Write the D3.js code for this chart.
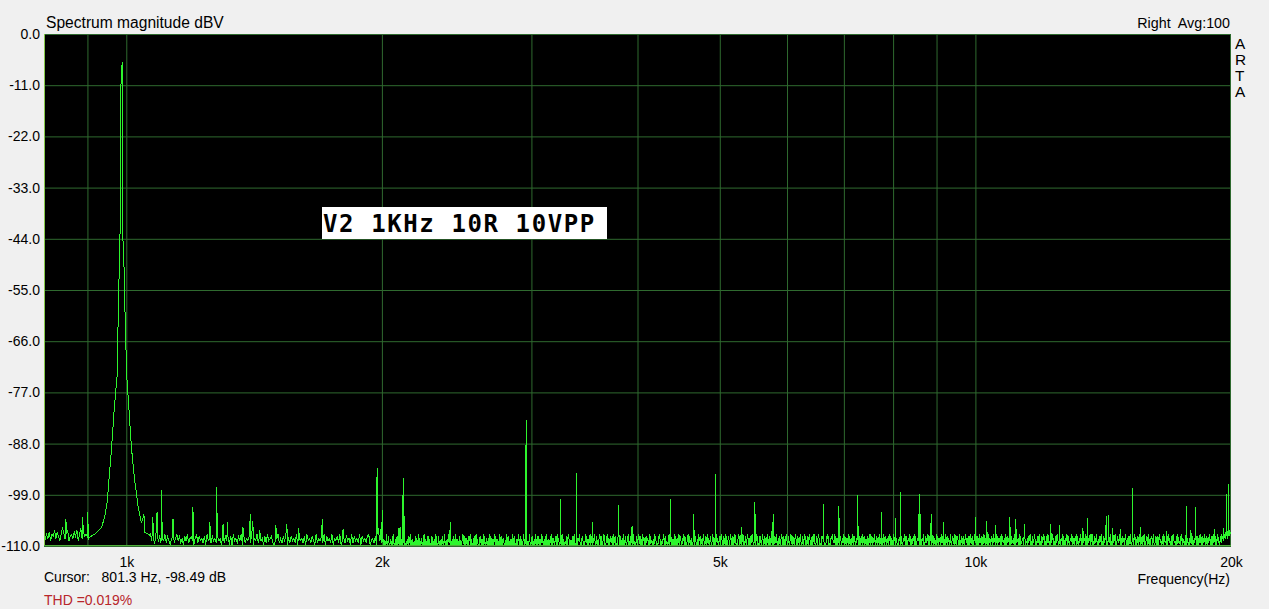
<!DOCTYPE html>
<html>
<head>
<meta charset="utf-8">
<script src="https://cdn.jsdelivr.net/npm/d3@7"></script>
<style>
  html, body { margin: 0; padding: 0; background: #f0f0f0; }
  svg { display: block; }
  text { font-family: "Liberation Sans", Arial, sans-serif; fill: #000; }
</style>
</head>
<body>
<svg id="chart" width="1269" height="609"></svg>
<script>
// ---------------- DATA ----------------
const yTickValues = [0, -11, -22, -33, -44, -55, -66, -77, -88, -99, -110];
const xGridHz = [900, 1000, 2000, 3000, 4000, 5000, 6000, 7000, 8000, 9000, 10000];
const xTickHz = [1000, 2000, 5000, 10000, 20000];
const xTickLabels = ["1k", "2k", "5k", "10k", "20k"];

// fundamental (1 kHz tone) skirt
const peakHz = [906, 922, 935, 943, 950, 954, 961, 967, 972, 975, 976, 978, 981, 983, 985, 985.3, 989, 990, 991, 993, 996, 999, 1002, 1008, 1014, 1023, 1033, 1042, 1051, 1066];
const peakDb = [-108.1, -107.2, -106.0, -103.8, -100.2, -95.9, -88.8, -81.5, -76.5, -74.4, -70.1, -62.1, -50.7, -44.3, -27.1, -11.6, -6.0, -7.0, -44.3, -47.0, -57.8, -67.3, -74.4, -81.5, -88.8, -95.9, -101.7, -105.1, -107.0, -107.7];

// harmonic / spurious spikes
const spikeHz = [849, 888, 900, 1049, 1075, 1087, 1100, 1135, 1198, 1254, 1277, 1300, 1316, 1372, 1400, 1410, 1436, 1500, 1546, 1597, 1702, 1800,
  1974, 1983, 1997, 2003, 2095, 2103, 2118, 2124, 2408, 2957, 2961, 3247, 3388, 3537, 3803, 3941, 4374, 4661, 4939, 5304, 5498, 5513, 5768, 5786,
  6630, 6904, 6920, 7269, 7758, 8056, 8168, 8576, 8604, 8869, 8885, 9177, 10005, 10311, 10566, 10974, 11154, 11430, 12266, 12568, 13384, 13559,
  14257, 14350, 14510, 14828, 15318, 15654, 16794, 17735, 17938, 18167, 19132, 19588, 19763, 19871];
const spikeDb = [-104.1, -103.7, -102.8, -103.2, -103.7, -102.7, -98.0, -104.1, -101.7, -104.8, -97.4, -105.2, -104.8, -105.9, -103.2, -104.7, -106.6, -105.5, -105.2, -106.2, -104.1, -106.4,
  -93.3, -106.2, -104.8, -102.2, -106.2, -105.9, -95.3, -103.6, -104.9, -86.0, -83.0, -99.9, -94.4, -104.9, -101.2, -105.7, -99.8, -103.2, -94.6, -105.9, -100.5, -103.2, -104.9, -103.2,
  -101.0, -101.4, -103.9, -99.1, -102.7, -104.0, -98.4, -103.2, -98.9, -103.9, -103.2, -104.9, -103.8, -104.7, -105.5, -103.8, -104.2, -105.3, -105.3, -105.5, -106.1, -104.0,
  -103.6, -103.3, -106.2, -106.4, -97.6, -106.0, -106.8, -101.4, -106.6, -101.7, -106.4, -106.2, -98.9, -96.7];

// noise floor, one digit per display bin, level = base + digit*step dB
const noiseBaseDb = -110.2;
const noiseStepDb = 0.45;
// 800 Hz .. 2 kHz (log-spaced bins)
const noiseLowDigits = [
  "546473658475369746835647583694756548",
  "4536475846374536475846374536475846374536475846",
  "3524635243625314524635241536245314625342516342534",
  "2534162534251634253615243526143625341526345213462",
  "4253614253426153425163425316243526153426143526134",
  "25341625342615342561342516342"
].join("");
// 2 kHz .. 20 kHz (log-spaced bins, denser)
const noiseHighDigits = [
  "0514031602510413062104150316041502510314052601410",
  "3150420613042106140315041205130416021503140520613",
  "1406250314052160413052014631502410536140215036041",
  "0253140615024031605142036150413062051430216045130",
  "4160350214063151402630514031620451302614053041625",
  "0315062140351604213506142031560412305164023150461",
  "2051436102540316250413605213460152034615023640152",
  "6013524061350214630512406135024613052146031250463",
  "1520634105243061523041653021465031246051320461530",
  "4026153042615302461530246153042160352140635124063",
  "0351624035126403516240351642053164025316402513640",
  "1346025136402513640251364025136402154036215403621",
  "5042613052461305214630521463052146305214630524163",
  "0251463025146302514630251463021546302154630215463",
  "2615304261530426153042615304261530426135042613504",
  "1350426135042613504261350426135042163504216350421",
  "0436150243615024361502436150243615024361052436105",
  "3062514306251430625143062514306215430621543062154",
  "1503624150362415036241503624150362415306241530624",
  "4061523406152340615234061523406152340651234065123",
  "0524613052461305246130524613052641305264130526413",
  "2143605214360521436052143605214360512436051243605",
  "6031524603152460315246031524603152460135246013524",
  "1462035146203514620351462035146203541620354162035",
  "3051642305164230516423051642305164230561423056142",
  "0426315042631504263150426315042631504623150462315",
  "2645364756475867"
].join("");

// ---------------- CHART ----------------
const svg = d3.select("#chart");
const plotL = 44, plotR = 1231, plotT = 34, plotB = 546;

const x = d3.scaleLog().domain([800, 20000]).range([plotL, plotR]);
const y = d3.scaleLinear().domain([-110, 0]).range([plotB, plotT]);

// plot background
svg.append("rect").attr("x", plotL).attr("y", plotT)
  .attr("width", plotR - plotL).attr("height", plotB - plotT).attr("fill", "#000");

const gridColor = "#2f6a2f";

// horizontal grid
const gy = svg.append("g").attr("transform", `translate(${plotL},0)`)
  .call(d3.axisLeft(y).tickValues(yTickValues).tickSize(-(plotR - plotL)).tickFormat(""));
gy.select(".domain").remove();
gy.selectAll("line").attr("stroke", gridColor).attr("stroke-width", 1);

// vertical grid
const gx = svg.append("g").attr("transform", `translate(0,${plotB})`)
  .call(d3.axisBottom(x).tickValues(xGridHz).tickSize(-(plotB - plotT)).tickFormat(""));
gx.select(".domain").remove();
gx.selectAll("line").attr("stroke", gridColor).attr("stroke-width", 1);

// frame
svg.append("rect").attr("x", plotL + 0.5).attr("y", plotT + 0.5)
  .attr("width", plotR - plotL - 1).attr("height", plotB - plotT - 1)
  .attr("fill", "none").attr("stroke", gridColor);
svg.append("line").attr("x1", plotL + 0.5).attr("x2", plotL + 0.5).attr("y1", plotT).attr("y2", plotB)
  .attr("stroke", "#86c94a");
svg.append("line").attr("x1", plotL).attr("x2", plotR).attr("y1", plotB - 0.5).attr("y2", plotB - 0.5)
  .attr("stroke", "#4fae3a");

// data assembly
function binsFromDigits(digits, hzLo, hzHi, skipFirst) {
  const n = digits.length, a = Math.log(hzLo), b = Math.log(hzHi);
  const out = [];
  for (let i = skipFirst ? 1 : 0; i < n; i++) {
    out.push({ hz: Math.exp(a + (b - a) * i / (n - 1)), db: noiseBaseDb + (+digits[i]) * noiseStepDb });
  }
  return out;
}
const noisePts = binsFromDigits(noiseLowDigits, 800, 2000, false)
  .concat(binsFromDigits(noiseHighDigits, 2000, 20000, true))
  .filter(p => p.hz < peakHz[0] || p.hz > peakHz[peakHz.length - 1]);
const peakPts = peakHz.map((h, i) => ({ hz: h, db: peakDb[i] }));
const spikePts = spikeHz.map((h, i) => ({ hz: h, db: spikeDb[i] }));
const allPts = noisePts.concat(peakPts, spikePts).sort((a, b) => a.hz - b.hz);

svg.append("clipPath").attr("id", "plotClip").append("rect")
  .attr("x", plotL + 1).attr("y", plotT).attr("width", plotR - plotL - 1).attr("height", plotB - plotT - 1);

const line = d3.line().x(d => x(d.hz)).y(d => y(d.db));
svg.append("path").datum(allPts)
  .attr("clip-path", "url(#plotClip)")
  .attr("d", line)
  .attr("fill", "none")
  .attr("stroke", "#2df52d")
  .attr("stroke-width", 1)
  .attr("shape-rendering", "crispEdges");

// y axis labels
const ya = svg.append("g").attr("transform", `translate(${plotL},0)`)
  .call(d3.axisLeft(y).tickValues(yTickValues).tickSize(0).tickPadding(4).tickFormat(d => d.toFixed(1)));
ya.select(".domain").remove();
ya.selectAll("text").attr("font-size", 14).attr("font-family", "Liberation Sans, Arial, sans-serif").attr("fill", "#000");

// x axis labels
const xa = svg.append("g").attr("transform", `translate(0,${plotB})`)
  .call(d3.axisBottom(x).tickValues(xTickHz).tickSize(0).tickPadding(11).tickFormat((d, i) => xTickLabels[i]));
xa.select(".domain").remove();
xa.selectAll("text").attr("font-size", 14).attr("font-family", "Liberation Sans, Arial, sans-serif").attr("fill", "#000");

// texts
svg.append("text").attr("x", 46).attr("y", 28).attr("font-size", 15.6).text("Spectrum magnitude dBV");
svg.append("text").attr("x", 1230).attr("y", 28).attr("font-size", 14.3).attr("text-anchor", "end")
  .style("white-space", "pre").text("Right  Avg:100");
["A", "R", "T", "A"].forEach((ch, i) => {
  svg.append("text").attr("x", 1235).attr("y", 48.5 + i * 16.1).attr("font-size", 15.4).text(ch);
});
svg.append("text").attr("x", 1230).attr("y", 584).attr("font-size", 14).attr("text-anchor", "end").text("Frequency(Hz)");
svg.append("text").attr("x", 44).attr("y", 582).attr("font-size", 14).style("white-space", "pre")
  .text("Cursor:   801.3 Hz, -98.49 dB");
svg.append("text").attr("x", 44).attr("y", 605).attr("font-size", 14).style("fill", "#b8262b")
  .text("THD =0.019%");

// annotation box
svg.append("rect").attr("x", 322).attr("y", 207).attr("width", 285).attr("height", 32).attr("fill", "#fff");
svg.append("text").attr("x", 323).attr("y", 232)
  .style("font-family", "'DejaVu Sans Mono', monospace")
  .attr("font-weight", "bold").attr("font-size", 24).attr("letter-spacing", 1.6)
  .text("V2 1KHz 10R 10VPP");
</script>
</body>
</html>
